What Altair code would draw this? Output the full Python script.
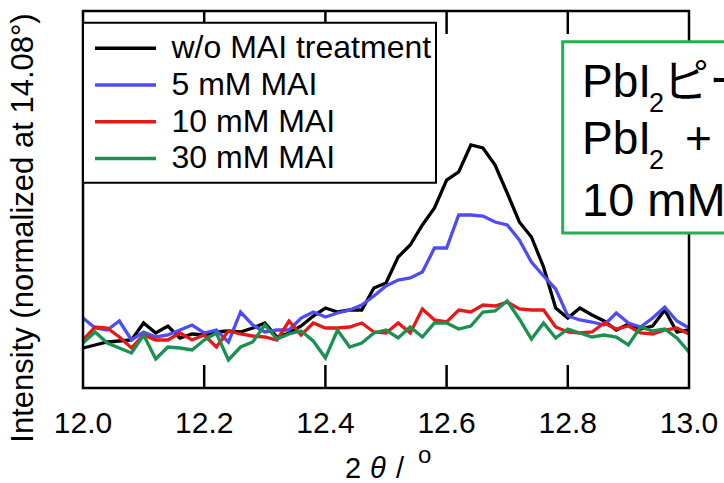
import altair as alt
import pandas as pd

FONT = "Liberation Sans, Noto Sans CJK JP, sans-serif"

two_theta = [12.00, 12.02, 12.04, 12.06, 12.08, 12.10, 12.12, 12.14, 12.16, 12.18,
             12.20, 12.22, 12.24, 12.26, 12.28, 12.30, 12.32, 12.34, 12.36, 12.38,
             12.40, 12.42, 12.44, 12.46, 12.48, 12.50, 12.52, 12.54, 12.56, 12.58,
             12.60, 12.62, 12.64, 12.66, 12.68, 12.70, 12.72, 12.74, 12.76, 12.78,
             12.80, 12.82, 12.84, 12.86, 12.88, 12.90, 12.92, 12.94, 12.96, 12.98,
             13.00]

series_names = ["w/o MAI treatment", "5 mM MAI", "10 mM MAI", "30 mM MAI"]
series_colors = ["#000000", "#4d4df2", "#e61919", "#1a9150"]

int_wo = [40, 43, 46, 47, 48, 65, 55, 62, 50, 54,
          53, 56, 57, 56, 60, 65, 51, 55, 62, 72,
          80, 76, 78, 78, 100, 105, 131, 143, 163, 180,
          208, 216, 243, 240, 223, 195, 166, 151, 121, 80,
          70, 80, 73, 67, 58, 64, 59, 62, 78, 56,
          58]
int_5 = [70, 60, 58, 67, 48, 56, 51, 53, 58, 63,
         55, 58, 46, 76, 63, 56, 58, 58, 70, 76,
         71, 75, 78, 83, 92, 102, 108, 110, 116, 140,
         140, 173, 173, 172, 166, 163, 148, 126, 112, 99,
         72, 68, 66, 63, 75, 65, 61, 70, 81, 67,
         60]
int_10 = [48, 61, 60, 51, 40, 53, 48, 48, 55, 48,
          53, 41, 57, 54, 52, 51, 48, 67, 53, 65,
          60, 60, 61, 65, 56, 55, 65, 55, 79, 68,
          66, 78, 76, 83, 82, 86, 79, 78, 78, 61,
          56, 55, 56, 65, 59, 62, 55, 54, 58, 60,
          54]
int_30 = [45, 56, 45, 40, 35, 53, 29, 41, 40, 38,
          48, 55, 28, 41, 46, 63, 49, 54, 57, 47,
          30, 58, 41, 45, 55, 58, 50, 61, 51, 65,
          65, 59, 62, 76, 77, 87, 69, 49, 65, 50,
          59, 55, 51, 53, 51, 43, 61, 57, 59, 50,
          36]

tick_values = [12.2, 12.4, 12.6, 12.8]
label_values = [12.0, 12.2, 12.4, 12.6, 12.8, 13.0]

W, H = 606, 377

rows = []
for name, vals in zip(series_names, [int_wo, int_5, int_10, int_30]):
    for t, v in zip(two_theta, vals):
        rows.append({"theta": t, "intensity": v, "series": name})
df = pd.DataFrame(rows)

color_scale = alt.Scale(domain=series_names, range=series_colors)
x_enc = alt.X("theta:Q", scale=alt.Scale(domain=[12, 13], nice=False, zero=False), axis=None)
y_enc = alt.Y("intensity:Q", scale=alt.Scale(domain=[0, H], nice=False, zero=False), axis=None)

one = pd.DataFrame({"k": [0]})
ticks_df = pd.DataFrame({"theta": tick_values})
labels_df = pd.DataFrame({"theta": label_values})

bottom_ticks = alt.Chart(ticks_df).mark_rule(color="black", strokeWidth=2.5).encode(
    x=x_enc, y=alt.value(H), y2=alt.value(H - 23))
top_ticks = alt.Chart(ticks_df).mark_rule(color="black", strokeWidth=2.5).encode(
    x=x_enc, y=alt.value(0), y2=alt.value(23))
tick_labels = alt.Chart(labels_df).mark_text(
    align="center", baseline="alphabetic", fontSize=30, font=FONT, color="black").encode(
    x=x_enc, y=alt.value(H + 45.3), text=alt.Text("theta:Q", format=".1f"))

line_layers = []
for name in series_names:
    line_layers.append(
        alt.Chart(df[df["series"] == name]).mark_line(strokeWidth=3.3).encode(
            x=x_enc, y=y_enc,
            color=alt.Color("series:N", scale=color_scale, legend=None)))

frame = alt.Chart(one).mark_rect(filled=False, stroke="black", strokeWidth=2.5).encode(
    x=alt.value(0), x2=alt.value(W), y=alt.value(0), y2=alt.value(H))

legend_box = alt.Chart(one).mark_rect(fill="white", stroke="black", strokeWidth=2).encode(
    x=alt.value(0), x2=alt.value(353), y=alt.value(11.7), y2=alt.value(171.7))

legend_df = pd.DataFrame({"series": series_names, "row": list(range(len(series_names)))})
legend_base = alt.Chart(legend_df).transform_calculate(ly="37.3 + datum.row * 36.7")
legend_lines = legend_base.mark_rule(strokeWidth=3.5).encode(
    x=alt.value(12), x2=alt.value(73), y=alt.Y("ly:Q", scale=None),
    color=alt.Color("series:N", scale=color_scale, legend=None))
legend_text = legend_base.mark_text(align="left", baseline="middle", fontSize=32,
                                    font=FONT, color="black").encode(
    x=alt.value(88.5), y=alt.Y("ly:Q", scale=None), text="series:N")


def label(txt, x, y, size, **kw):
    return alt.Chart(one).mark_text(text=txt, fontSize=size, align="left",
                                    baseline="alphabetic", color="black", font=FONT,
                                    **kw).encode(x=alt.value(x), y=alt.value(y))


green_box = alt.Chart(one).mark_rect(fill="white", stroke="#22b14c", strokeWidth=3).encode(
    x=alt.value(479.7), x2=alt.value(720), y=alt.value(30.7), y2=alt.value(222))

box_texts = [
    label("PbI", 499, 86.3, 46),
    label("2", 566, 101, 27),
    label("ピーク", 580, 86.3, 46),
    label("PbI", 499, 143, 46),
    label("2", 566, 158, 27),
    label("+", 602, 143, 46),
    label("10 mM MAI", 499, 204.7, 47),
]

x_title = [
    label("2", 262, 467, 29),
    label("θ", 287, 467, 29, fontStyle="italic"),
    label("/", 313, 467, 29),
    label("o", 335, 452, 24),
]

y_title = alt.Chart(one).mark_text(text="Intensity (normalized at 14.08°)", fontSize=31,
                                   angle=270, align="center", baseline="middle",
                                   color="black", font=FONT).encode(
    x=alt.value(-59), y=alt.value(217))

chart = alt.layer(
    bottom_ticks, top_ticks, tick_labels, *line_layers, frame, legend_box, legend_lines,
    legend_text, green_box, *box_texts, *x_title, y_title
).properties(
    width=W, height=H,
    autosize=alt.AutoSizeParams(type="none"),
    padding={"left": 83, "top": 11, "right": 35, "bottom": 95},
).configure_view(stroke=None).configure(font=FONT)

chart.save("out.html", embed_options={"renderer": "svg", "actions": False})
